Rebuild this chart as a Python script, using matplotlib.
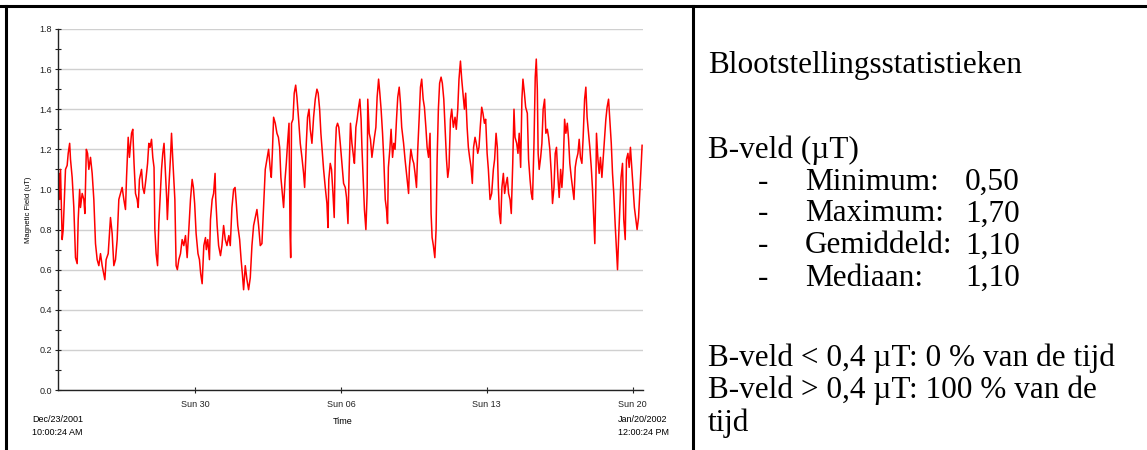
import datetime as dt
import numpy as np
import matplotlib
matplotlib.use("Agg")
import matplotlib.pyplot as plt
import matplotlib.dates as mdates
from matplotlib.lines import Line2D

# elapsed time (days since first sample) and magnetic field (uT)
days = [
    0.00, 0.04, 0.08, 0.12, 0.20, 0.25, 0.36, 0.44, 0.49, 0.56, 0.60, 0.68, 0.76, 0.84, 0.92,
    0.97, 1.04, 1.08, 1.16, 1.24, 1.29, 1.36, 1.42, 1.48, 1.56, 1.64, 1.72, 1.80, 1.88, 1.96,
    2.04, 2.12, 2.25, 2.31, 2.41, 2.52, 2.60, 2.68, 2.76, 2.84, 2.92, 3.00, 3.08, 3.16, 3.24,
    3.29, 3.37, 3.43, 3.53, 3.59, 3.65, 3.72, 3.80, 3.85, 3.91, 4.01, 4.07, 4.14, 4.23, 4.30,
    4.36, 4.42, 4.49, 4.55, 4.61, 4.65, 4.71, 4.78, 4.84, 4.90, 4.97, 5.03, 5.09, 5.16, 5.22,
    5.25, 5.32, 5.40, 5.45, 5.51, 5.61, 5.67, 5.73, 5.80, 5.88, 5.96, 6.04, 6.12, 6.20, 6.28,
    6.36, 6.44, 6.50, 6.56, 6.63, 6.72, 6.79, 6.85, 6.92,
    7.00, 7.08, 7.12, 7.19, 7.27, 7.32, 7.40, 7.47, 7.54, 7.57, 7.64, 7.71, 7.80, 7.87, 7.95,
    8.03, 8.11, 8.20, 8.27, 8.35, 8.43, 8.50, 8.56, 8.63, 8.72, 8.79, 8.85, 8.91, 8.99, 9.07,
    9.15, 9.23, 9.31, 9.39, 9.47, 9.55, 9.63, 9.71, 9.79, 9.87, 9.95, 10.03, 10.11, 10.19, 10.24,
    10.29, 10.35, 10.43, 10.51, 10.58, 10.64, 10.70, 10.77, 10.83, 10.90, 10.96, 11.02, 11.09, 11.14, 11.17,
    11.21, 11.28, 11.34, 11.41, 11.47, 11.55, 11.63, 11.71, 11.79, 11.84, 11.92, 11.98, 12.05, 12.11, 12.19,
    12.27, 12.35, 12.43, 12.49, 12.56, 12.62, 12.68, 12.75, 12.83, 12.91, 12.96, 13.00, 13.07, 13.13, 13.20,
    13.26, 13.31, 13.36, 13.42, 13.48, 13.55, 13.63, 13.71,
    13.79, 13.85, 13.92, 13.98, 14.04, 14.11, 14.19, 14.23, 14.30, 14.36, 14.43, 14.49, 14.55, 14.59, 14.65,
    14.71, 14.78, 14.84, 14.87, 14.94, 15.00, 15.07, 15.13, 15.19, 15.26, 15.32, 15.39, 15.45, 15.51, 15.58,
    15.64, 15.71, 15.77, 15.82, 15.86, 15.93, 15.99, 16.06, 16.12, 16.18, 16.25, 16.31, 16.38, 16.44, 16.50,
    16.59, 16.66, 16.75, 16.83, 16.87, 16.94, 17.02, 17.08, 17.14, 17.21, 17.27, 17.34, 17.40, 17.46, 17.53,
    17.59, 17.66, 17.72, 17.79, 17.86, 17.91, 17.96, 18.02, 18.09, 18.15, 18.20, 18.26, 18.32, 18.39, 18.45,
    18.52, 18.58, 18.65, 18.71, 18.77, 18.84, 18.90, 18.98, 19.06, 19.12, 19.19, 19.25, 19.32, 19.38, 19.44,
    19.51, 19.57, 19.64, 19.70, 19.76, 19.83, 19.89, 19.95, 20.02, 20.08, 20.15, 20.21, 20.27, 20.34, 20.40,
    20.47, 20.53, 20.60, 20.66,
    20.74, 20.82, 20.90, 20.96, 21.03, 21.09, 21.14, 21.19, 21.25, 21.31, 21.38, 21.44, 21.51, 21.57, 21.63,
    21.70, 21.76, 21.83, 21.89, 21.94, 22.02, 22.08, 22.14, 22.21, 22.27, 22.32, 22.39, 22.45, 22.53, 22.59,
    22.66, 22.72, 22.78, 22.85, 22.91, 22.96, 23.01, 23.05, 23.10, 23.17, 23.23, 23.29, 23.36, 23.42, 23.49,
    23.55, 23.61, 23.68, 23.74, 23.81, 23.87, 23.93, 24.00, 24.06, 24.13, 24.19, 24.25, 24.32, 24.38, 24.45,
    24.51, 24.57, 24.64, 24.70, 24.77, 24.83, 24.89, 24.96, 25.02, 25.08, 25.15, 25.21, 25.28, 25.34, 25.40,
    25.47, 25.53, 25.60, 25.66, 25.72, 25.77, 25.82, 25.85, 25.92, 25.98, 26.04, 26.11, 26.17, 26.24, 26.30,
    26.36, 26.43, 26.49, 26.56, 26.62, 26.68, 26.75, 26.81, 26.86, 26.91, 26.97, 27.03, 27.10, 27.16, 27.23,
    27.29, 27.36, 27.42, 27.48, 27.55, 27.61, 27.67, 27.74, 27.80, 27.87, 27.93, 28.00, 28.04,
]
field = [
    1.05, 1.08, 0.95, 1.10, 0.75, 0.80, 1.10, 1.12, 1.18, 1.23, 1.15, 1.06, 0.91, 0.66, 0.63,
    0.85, 1.00, 0.91, 0.98, 0.95, 0.88, 1.20, 1.18, 1.10, 1.16, 1.08, 0.95, 0.73, 0.65, 0.62,
    0.68, 0.62, 0.55, 0.65, 0.68, 0.86, 0.78, 0.62, 0.65, 0.75, 0.95, 0.98, 1.01, 0.95, 0.90,
    1.06, 1.26, 1.16, 1.28, 1.30, 1.13, 0.98, 0.95, 0.91, 1.05, 1.10, 1.01, 0.98, 1.06, 1.13,
    1.23, 1.21, 1.25, 1.16, 1.11, 0.80, 0.68, 0.62, 0.83, 0.95, 1.10, 1.18, 1.23, 1.08, 0.95,
    0.85, 1.01, 1.16, 1.28, 1.15, 0.95, 0.62, 0.60, 0.65, 0.68, 0.75, 0.72, 0.77, 0.66, 0.80,
    0.95, 1.05, 1.01, 0.93, 0.78, 0.68, 0.65, 0.58, 0.53,
    0.72, 0.76, 0.70, 0.75, 0.65, 0.85, 0.95, 0.98, 1.08, 0.96, 0.82, 0.72, 0.67, 0.72, 0.82,
    0.75, 0.72, 0.77, 0.72, 0.91, 1.00, 1.01, 0.93, 0.82, 0.75, 0.65, 0.58, 0.50, 0.62, 0.55,
    0.50, 0.56, 0.72, 0.82, 0.86, 0.90, 0.82, 0.72, 0.73, 0.91, 1.10, 1.15, 1.20, 1.10, 1.06,
    1.18, 1.36, 1.33, 1.28, 1.26, 1.21, 1.06, 0.98, 0.91, 1.05, 1.13, 1.23, 1.33, 0.78, 0.66,
    1.33, 1.35, 1.48, 1.52, 1.46, 1.35, 1.23, 1.16, 1.08, 1.01, 1.23, 1.36, 1.40, 1.30, 1.23,
    1.36, 1.45, 1.50, 1.48, 1.40, 1.28, 1.20, 1.10, 1.01, 0.93, 0.81, 1.05, 1.13, 1.10, 0.98,
    0.86, 1.18, 1.31, 1.33, 1.31, 1.23, 1.13, 1.03,
    1.01, 0.96, 0.83, 1.11, 1.33, 1.23, 1.16, 1.13, 1.31, 1.35, 1.41, 1.45, 1.35, 1.21, 1.05,
    0.90, 0.80, 0.98, 1.45, 1.28, 1.25, 1.16, 1.21, 1.26, 1.31, 1.46, 1.55, 1.48, 1.40, 1.28,
    1.15, 0.95, 0.90, 0.83, 1.11, 1.20, 1.30, 1.16, 1.23, 1.20, 1.35, 1.46, 1.51, 1.43, 1.31,
    1.23, 1.15, 1.06, 0.98, 1.11, 1.20, 1.15, 1.13, 1.08, 1.01, 1.20, 1.36, 1.51, 1.55, 1.45,
    1.41, 1.31, 1.21, 1.16, 1.28, 0.88, 0.76, 0.72, 0.66, 0.80, 1.15, 1.40, 1.53, 1.56, 1.53,
    1.45, 1.31, 1.15, 1.06, 1.11, 1.35, 1.40, 1.31, 1.36, 1.30, 1.40, 1.55, 1.64, 1.55, 1.48,
    1.40, 1.48, 1.31, 1.21, 1.16, 1.11, 1.03, 1.21, 1.26, 1.23, 1.18, 1.21, 1.31, 1.41, 1.38,
    1.33, 1.35, 1.18, 1.10,
    0.95, 0.98, 1.10, 1.15, 1.28, 1.21, 1.01, 0.88, 0.83, 1.01, 1.08, 0.98, 1.03, 1.06, 0.98,
    0.95, 0.88, 1.13, 1.40, 1.26, 1.23, 1.18, 1.28, 1.11, 1.45, 1.55, 1.48, 1.41, 1.38, 1.15,
    1.05, 0.98, 0.95, 1.23, 1.56, 1.65, 1.50, 1.18, 1.10, 1.16, 1.23, 1.40, 1.45, 1.28, 1.30,
    1.26, 1.20, 1.08, 0.93, 1.01, 1.18, 1.21, 1.06, 0.96, 1.10, 1.01, 1.11, 1.35, 1.28, 1.33,
    1.25, 1.13, 1.06, 1.01, 0.95, 1.11, 1.15, 1.18, 1.25, 1.16, 1.13, 1.26, 1.45, 1.51, 1.36,
    1.28, 1.21, 1.11, 1.00, 0.85, 0.73, 1.01, 1.28, 1.15, 1.08, 1.16, 1.06, 1.15, 1.26, 1.35,
    1.41, 1.45, 1.35, 1.23, 1.08, 0.98, 0.82, 0.70, 0.60, 0.75, 0.91, 1.06, 1.13, 0.85, 0.75,
    1.15, 1.18, 1.11, 1.21, 1.10, 1.01, 0.91, 0.85, 0.80, 0.86, 0.98, 1.13, 1.22,
]

start = dt.datetime(2001, 12, 23, 10, 0, 24)
end = dt.datetime(2002, 1, 20, 12, 0, 24)
week_ticks = [dt.datetime(2001, 12, 30), dt.datetime(2002, 1, 6),
              dt.datetime(2002, 1, 13), dt.datetime(2002, 1, 20)]

stats_title = "Blootstellingsstatistieken"
stats_unit = "B-veld (\u00b5T)"
stat_names = ["Minimum:", "Maximum:", "Gemiddeld:", "Mediaan:"]
stat_values = ["0,50", "1,70", "1,10", "1,10"]
share_lines = ["B-veld < 0,4 \u00b5T: 0 % van de tijd",
               "B-veld > 0,4 \u00b5T: 100 % van de",
               "tijd"]

times = [start + dt.timedelta(days=d) for d in days]

W, H = 1147, 450
fig = plt.figure(figsize=(W / 100, H / 100), dpi=100)

def fx(px):
    return px / W

def fy(py):
    return 1 - py / H

# table borders
fig.add_artist(Line2D([0, 1], [fy(6), fy(6)], color="black", lw=2.2))
fig.add_artist(Line2D([fx(6), fx(6)], [fy(6), 0], color="black", lw=2.2))
fig.add_artist(Line2D([fx(693), fx(693)], [fy(6), 0], color="black", lw=2.2))

ax = fig.add_axes([fx(58), fy(390), fx(643) - fx(58), fy(29) - fy(390)])
ax.plot(times, field, color="#ff0000", lw=1.1)

ax.set_xlim(start, end)
ax.set_ylim(0, 1.8)
ax.set_yticks(np.arange(0, 1.81, 0.2))
ax.set_yticks(np.arange(0.1, 1.8, 0.2), minor=True)
ax.yaxis.set_major_formatter(matplotlib.ticker.FormatStrFormatter("%.1f"))
ax.set_xticks(week_ticks)
ax.xaxis.set_major_formatter(mdates.DateFormatter("%a %d"))

ax.grid(axis="y", color="#d0d0d0", lw=1.0)
ax.set_axisbelow(True)
for s in ["top", "right"]:
    ax.spines[s].set_visible(False)
for s in ["left", "bottom"]:
    ax.spines[s].set_color("#222222")
    ax.spines[s].set_linewidth(1.0)

ax.tick_params(axis="both", which="both", direction="inout", length=5, width=0.8,
               colors="#222222", labelsize=6.5)
ax.tick_params(axis="x", pad=5)
ax.tick_params(axis="y", pad=2)
for lab in ax.get_xticklabels() + ax.get_yticklabels():
    lab.set_fontfamily("Liberation Sans")

ax.set_ylabel("Magnetic Field (uT)", fontsize=5.5, family="Liberation Sans", labelpad=5)
fig.text(fx(343), fy(421), "Time", fontsize=6.5, family="Liberation Sans", ha="center", va="center")
fig.text(fx(57.5), fy(426), "Dec/23/2001\n10:00:24 AM", fontsize=6.5, family="Liberation Sans",
         ha="center", va="center", linespacing=1.45)
fig.text(fx(643), fy(426), "Jan/20/2002\n12:00:24 PM", fontsize=6.5, family="Liberation Sans",
         ha="center", va="center", linespacing=1.45)

# statistics panel
serif = dict(family="Liberation Serif", fontsize=22.5, color="black", va="center")
fig.text(fx(708), fy(66), stats_title, ha="left", **serif)
fig.text(fx(708), fy(150), stats_unit, ha="left", **serif)
for i, (name, val) in enumerate(zip(stat_names, stat_values)):
    y = 182 + 32 * i
    fig.text(fx(758), fy(y), "-", ha="left", **serif)
    fig.text(fx(805), fy(y), name, ha="left", **serif)
    fig.text(fx(1020), fy(y), val, ha="right", **serif)
for i, line in enumerate(share_lines):
    fig.text(fx(708), fy(358 + 32.5 * i), line, ha="left", **serif)

fig.savefig("out.png", dpi=100)
